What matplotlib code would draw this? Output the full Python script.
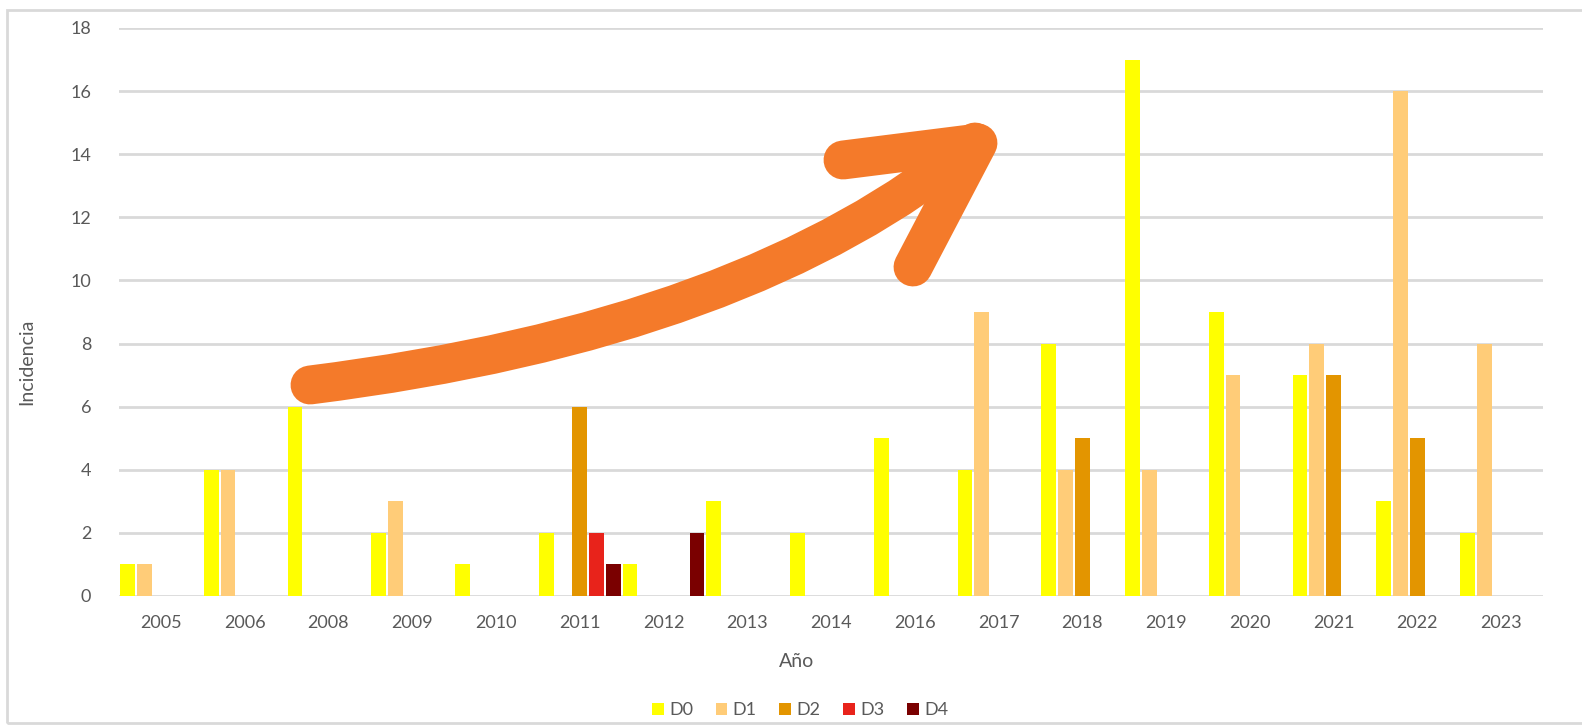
import matplotlib.pyplot as plt
import numpy as np
from matplotlib.path import Path
from matplotlib.patches import PathPatch, Rectangle

# data
years = ['2005', '2006', '2008', '2009', '2010', '2011', '2012', '2013', '2014',
         '2016', '2017', '2018', '2019', '2020', '2021', '2022', '2023']
d0 = [1, 4, 6, 2, 1, 2, 1, 3, 2, 5, 4, 8, 17, 9, 7, 3, 2]
d1 = [1, 4, 0, 3, 0, 0, 0, 0, 0, 0, 9, 4, 4, 7, 8, 16, 8]
d2 = [0, 0, 0, 0, 0, 6, 0, 0, 0, 0, 0, 5, 0, 0, 7, 5, 0]
d3 = [0, 0, 0, 0, 0, 2, 0, 0, 0, 0, 0, 0, 0, 0, 0, 0, 0]
d4 = [0, 0, 0, 0, 0, 1, 2, 0, 0, 0, 0, 0, 0, 0, 0, 0, 0]
series_names = ['D0', 'D1', 'D2', 'D3', 'D4']
series_colors = ['#FFFF00', '#FFCC78', '#E39500', '#E8231B', '#7A0000']

plt.rcParams['font.family'] = ['Lato', 'DejaVu Sans']
W, H = 1582, 725
fig = plt.figure(figsize=(W / 100, H / 100), dpi=100)
ax = fig.add_axes([119 / W, 1 - 596 / H, (1543 - 119) / W, (596 - 28) / H])

x = np.arange(len(years))
slot = 0.2
for k, (vals, name, col) in enumerate(zip([d0, d1, d2, d3, d4], series_names, series_colors)):
    ax.bar(x + (k - 2) * slot, vals, width=slot * 0.88, color=col, label=name, zorder=3)

ax.set_xlim(-0.5, len(years) - 0.5)
ax.set_ylim(0, 18)
ax.set_yticks(np.arange(0, 19, 2))
ax.set_xticks(x)
ax.set_xticklabels(years)
ax.grid(axis='y', color='#D9D9D9', linewidth=2, zorder=0)
ax.tick_params(length=0, labelsize=13, colors='#595959', pad=14)
ax.tick_params(axis='y', pad=20)
for s in ax.spines.values():
    s.set_visible(False)

ax.set_xlabel('Año', fontsize=14, color='#595959')
ax.xaxis.set_label_coords((797 - 119) / 1424, (596 - 653) / 568)
ax.set_ylabel('Incidencia', fontsize=14, color='#595959')
ax.yaxis.set_label_coords((35 - 119) / 1424, 0.412)

fig.legend(loc='center', bbox_to_anchor=(800 / W, 1 - 710 / H), ncol=5, frameon=False,
           fontsize=13, handlelength=0.65, handleheight=0.65, handletextpad=0.3,
           columnspacing=1.25, labelcolor='#595959')

# light frame around the chart
fig.patches.append(Rectangle((7 / W, 1 - 723 / H), 1.0, (723 - 10) / H,
                             transform=fig.transFigure, fill=False,
                             edgecolor='#D9D9D9', linewidth=2))

# orange hand-drawn arrow overlay (pixel coordinates)
ov = fig.add_axes([0, 0, 1, 1], facecolor='none')
ov.set_xlim(0, W)
ov.set_ylim(H, 0)
ov.axis('off')
orange = '#F47A2A'
shaft = Path([(310, 385), (750, 330), (975, 142)], [Path.MOVETO, Path.CURVE3, Path.CURVE3])
ov.add_patch(PathPatch(shaft, fill=False, edgecolor=orange, linewidth=28,
                       capstyle='round', joinstyle='round'))
head = Path([(843, 160), (978, 143), (913, 267)], [Path.MOVETO, Path.LINETO, Path.LINETO])
ov.add_patch(PathPatch(head, fill=False, edgecolor=orange, linewidth=28,
                       capstyle='round', joinstyle='round'))

fig.savefig('out.png', dpi=100)
